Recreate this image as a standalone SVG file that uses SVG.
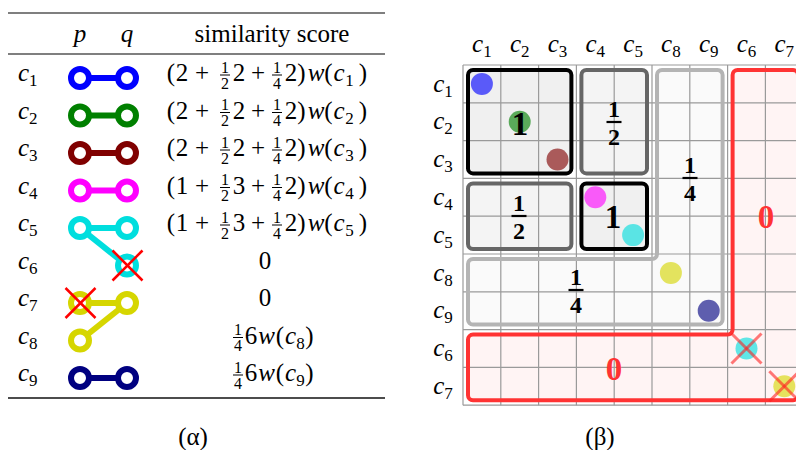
<svg xmlns="http://www.w3.org/2000/svg" width="796" height="450" viewBox="0 0 796 450" font-family="'Liberation Serif','Times New Roman',serif">
<style>
text{font-family:"Liberation Serif","Times New Roman",serif;fill:#000}
.rm{font-size:25px}
.it{font-size:25px;font-style:italic}
.sb{font-size:17px;font-style:normal}
.fr{font-size:16px}
.bf{font-weight:bold}
.rule{stroke:#555;stroke-width:1.3}
.db circle{fill:#fff;stroke-width:6}
.db line{stroke-width:6}
.xr{stroke:#ff0000;stroke-width:2.5}
.xg{stroke:#ff2020;stroke-width:3;stroke-opacity:0.6}
.grid line{stroke:#9a9a9a;stroke-width:1.2}
.bx{stroke-width:4}
.dot{opacity:0.62}
.bar{stroke:#000}
</style>
<defs>
<g id="half"><text class="fr" text-anchor="middle" y="-8.5">1</text><line class="bar" x1="-5" x2="5" y1="-6" y2="-6" stroke-width="1"/><text class="fr" text-anchor="middle" y="7.5">2</text></g>
<g id="quarter"><text class="fr" text-anchor="middle" y="-8.5">1</text><line class="bar" x1="-5" x2="5" y1="-6" y2="-6" stroke-width="1"/><text class="fr" text-anchor="middle" y="7.5">4</text></g>
<g id="tail">
<text class="rm" text-anchor="middle"><tspan x="171">(</tspan><tspan x="202">+</tspan><tspan x="258">+</tspan><tspan x="291">2</tspan><tspan x="301.5">)</tspan><tspan x="328.5">(</tspan><tspan x="363">)</tspan></text>
<text class="it" text-anchor="middle"><tspan x="316">w</tspan><tspan x="339">c</tspan></text>
<use href="#half" x="225"/><use href="#quarter" x="277"/>
</g>
<g id="e2"><use href="#tail"/><text class="rm" text-anchor="middle"><tspan x="182">2</tspan><tspan x="239">2</tspan></text></g>
<g id="e1"><use href="#tail"/><text class="rm" text-anchor="middle"><tspan x="182">1</tspan><tspan x="239">3</tspan></text></g>
<g id="e6">
<use href="#quarter" x="238"/>
<text class="rm" text-anchor="middle"><tspan x="251">6</tspan><tspan x="280">(</tspan><tspan x="309.5">)</tspan></text>
<text class="it" text-anchor="middle"><tspan x="266.5">w</tspan><tspan x="290.5">c</tspan></text>
</g>
<g id="xmark"><line x1="-15" y1="-15" x2="15" y2="15"/><line x1="-15" y1="15" x2="15" y2="-15"/></g>
</defs>
<rect width="796" height="450" fill="#fff"/>

<!-- ===== (a) table ===== -->
<g id="table">
<line class="rule" x1="8" y1="13" x2="385" y2="13"/>
<line class="rule" x1="8" y1="54" x2="385" y2="54"/>
<line x1="8" y1="398" x2="385" y2="398" stroke="#111" stroke-width="1.3"/>
<text class="it" x="80" y="42" text-anchor="middle">p</text>
<text class="it" x="127" y="42" text-anchor="middle">q</text>
<text class="rm" x="272" y="42" text-anchor="middle">similarity score</text>

<g class="it">
<text x="18" y="81">c<tspan class="sb" dy="5">1</tspan></text>
<text x="18" y="118.5">c<tspan class="sb" dy="5">2</tspan></text>
<text x="18" y="156">c<tspan class="sb" dy="5">3</tspan></text>
<text x="18" y="193.5">c<tspan class="sb" dy="5">4</tspan></text>
<text x="18" y="231">c<tspan class="sb" dy="5">5</tspan></text>
<text x="18" y="268.5">c<tspan class="sb" dy="5">6</tspan></text>
<text x="18" y="306">c<tspan class="sb" dy="5">7</tspan></text>
<text x="18" y="343.5">c<tspan class="sb" dy="5">8</tspan></text>
<text x="18" y="381">c<tspan class="sb" dy="5">9</tspan></text>
</g>

<g id="scores">
<use href="#e2" y="81"/><text class="sb" x="349.5" y="86" text-anchor="middle">1</text>
<use href="#e2" y="118.5"/><text class="sb" x="349.5" y="123.5" text-anchor="middle">2</text>
<use href="#e2" y="156"/><text class="sb" x="349.5" y="161" text-anchor="middle">3</text>
<use href="#e1" y="193.5"/><text class="sb" x="349.5" y="198.5" text-anchor="middle">4</text>
<use href="#e1" y="231"/><text class="sb" x="349.5" y="236" text-anchor="middle">5</text>
<text class="rm" x="265" y="268.5" text-anchor="middle">0</text>
<text class="rm" x="265" y="306" text-anchor="middle">0</text>
<use href="#e6" y="343.5"/><text class="sb" x="300.5" y="348.5" text-anchor="middle">8</text>
<use href="#e6" y="381"/><text class="sb" x="300.5" y="386" text-anchor="middle">9</text>
</g>

<g id="c1" class="db" stroke="#0000ff"><line x1="80" y1="78" x2="127" y2="78"/><circle cx="80" cy="78" r="9"/><circle cx="127" cy="78" r="9"/></g>
<g id="c2" class="db" stroke="#008000"><line x1="80" y1="115.5" x2="127" y2="115.5"/><circle cx="80" cy="115.5" r="9"/><circle cx="127" cy="115.5" r="9"/></g>
<g id="c3" class="db" stroke="#800000"><line x1="80" y1="153" x2="127" y2="153"/><circle cx="80" cy="153" r="9"/><circle cx="127" cy="153" r="9"/></g>
<g id="c4" class="db" stroke="#ff00ff"><line x1="80" y1="190.5" x2="127" y2="190.5"/><circle cx="80" cy="190.5" r="9"/><circle cx="127" cy="190.5" r="9"/></g>
<g id="c5" class="db" stroke="#00dede"><line x1="80" y1="228" x2="127" y2="228"/><line x1="80" y1="228" x2="127" y2="265.5"/><circle cx="80" cy="228" r="9"/><circle cx="127" cy="228" r="9"/><circle cx="127" cy="265.5" r="9"/></g>
<g id="c7" class="db" stroke="#d6d600"><line x1="80" y1="303" x2="127" y2="303"/><line x1="127" y1="303" x2="80" y2="340.5"/><circle cx="80" cy="303" r="9"/><circle cx="127" cy="303" r="9"/><circle cx="80" cy="340.5" r="9"/></g>
<g id="c9" class="db" stroke="#000080"><line x1="80" y1="378" x2="127" y2="378"/><circle cx="80" cy="378" r="9"/><circle cx="127" cy="378" r="9"/></g>
<g class="xr"><use href="#xmark" x="127.5" y="265.5"/><use href="#xmark" x="80.5" y="303"/></g>
<text x="193" y="445" font-size="25" text-anchor="middle">(α)</text>
</g>

<!-- ===== (b) matrix ===== -->
<g id="matrix">
<g stroke="none">
<path fill="#fff4f4" d="M737.6,70 H793 A5,5 0 0 1 798,75 V395.2 A5,5 0 0 1 793,400.2 H473 A5,5 0 0 1 468,395.2 V339.6 A5,5 0 0 1 473,334.6 H727.6 A5,5 0 0 0 732.6,329.6 V75 A5,5 0 0 1 737.6,70 Z"/>
<path fill="#fafafa" d="M662,70 H717.6 A5,5 0 0 1 722.6,75 V319.6 A5,5 0 0 1 717.6,324.6 H473 A5,5 0 0 1 468,319.6 V264 A5,5 0 0 1 473,259 H652 A5,5 0 0 0 657,254 V75 A5,5 0 0 1 662,70 Z"/>
<rect x="468" y="70" width="103.4" height="103.4" rx="5" fill="#f0f0f0"/>
<rect x="581.4" y="70" width="65.6" height="103.4" rx="5" fill="#f4f4f4"/>
<rect x="468" y="183.4" width="103.4" height="65.6" rx="5" fill="#f4f4f4"/>
<rect x="581.4" y="183.4" width="65.6" height="65.6" rx="5" fill="#f0f0f0"/>
</g>
<g class="grid">
<line x1="463" y1="65" x2="463" y2="405.2"/>
<line x1="500.8" y1="65" x2="500.8" y2="405.2"/>
<line x1="538.6" y1="65" x2="538.6" y2="405.2"/>
<line x1="576.4" y1="65" x2="576.4" y2="405.2"/>
<line x1="614.2" y1="65" x2="614.2" y2="405.2"/>
<line x1="652" y1="65" x2="652" y2="405.2"/>
<line x1="689.8" y1="65" x2="689.8" y2="405.2"/>
<line x1="727.6" y1="65" x2="727.6" y2="405.2"/>
<line x1="765.4" y1="65" x2="765.4" y2="405.2"/>
<line x1="463" y1="65" x2="803" y2="65"/>
<line x1="463" y1="102.8" x2="803" y2="102.8"/>
<line x1="463" y1="140.6" x2="803" y2="140.6"/>
<line x1="463" y1="178.4" x2="803" y2="178.4"/>
<line x1="463" y1="216.2" x2="803" y2="216.2"/>
<line x1="463" y1="254" x2="803" y2="254"/>
<line x1="463" y1="291.8" x2="803" y2="291.8"/>
<line x1="463" y1="329.6" x2="803" y2="329.6"/>
<line x1="463" y1="367.4" x2="803" y2="367.4"/>
<line x1="463" y1="405.2" x2="803" y2="405.2"/>
</g>
<g fill="none" class="bx">
<path id="box0" stroke="#ff3333" d="M737.6,70 H793 A5,5 0 0 1 798,75 V395.2 A5,5 0 0 1 793,400.2 H473 A5,5 0 0 1 468,395.2 V339.6 A5,5 0 0 1 473,334.6 H727.6 A5,5 0 0 0 732.6,329.6 V75 A5,5 0 0 1 737.6,70 Z"/>
<path id="box14" stroke="#b4b4b4" d="M662,70 H717.6 A5,5 0 0 1 722.6,75 V319.6 A5,5 0 0 1 717.6,324.6 H473 A5,5 0 0 1 468,319.6 V264 A5,5 0 0 1 473,259 H652 A5,5 0 0 0 657,254 V75 A5,5 0 0 1 662,70 Z"/>
<rect id="box1a" x="468" y="70" width="103.4" height="103.4" rx="5" stroke="#000"/>
<rect id="box12a" x="581.4" y="70" width="65.6" height="103.4" rx="5" stroke="#666"/>
<rect id="box12b" x="468" y="183.4" width="103.4" height="65.6" rx="5" stroke="#666"/>
<rect id="box1b" x="581.4" y="183.4" width="65.6" height="65.6" rx="5" stroke="#000"/>
</g>
<g class="it" text-anchor="middle">
<text x="481.9" y="52">c<tspan class="sb" dy="5">1</tspan></text>
<text x="519.7" y="52">c<tspan class="sb" dy="5">2</tspan></text>
<text x="557.5" y="52">c<tspan class="sb" dy="5">3</tspan></text>
<text x="595.3" y="52">c<tspan class="sb" dy="5">4</tspan></text>
<text x="633.1" y="52">c<tspan class="sb" dy="5">5</tspan></text>
<text x="670.9" y="52">c<tspan class="sb" dy="5">8</tspan></text>
<text x="708.7" y="52">c<tspan class="sb" dy="5">9</tspan></text>
<text x="746.5" y="52">c<tspan class="sb" dy="5">6</tspan></text>
<text x="784.3" y="52">c<tspan class="sb" dy="5">7</tspan></text>
<text x="443" y="91.5">c<tspan class="sb" dy="5">1</tspan></text>
<text x="443" y="129.3">c<tspan class="sb" dy="5">2</tspan></text>
<text x="443" y="167.1">c<tspan class="sb" dy="5">3</tspan></text>
<text x="443" y="204.9">c<tspan class="sb" dy="5">4</tspan></text>
<text x="443" y="242.7">c<tspan class="sb" dy="5">5</tspan></text>
<text x="443" y="280.5">c<tspan class="sb" dy="5">8</tspan></text>
<text x="443" y="318.3">c<tspan class="sb" dy="5">9</tspan></text>
<text x="443" y="356.1">c<tspan class="sb" dy="5">6</tspan></text>
<text x="443" y="393.9">c<tspan class="sb" dy="5">7</tspan></text>
</g>
<g class="dot">
<circle cx="481.9" cy="83.9" r="11" fill="#0000ff"/>
<circle cx="519.7" cy="121.7" r="11" fill="#008000"/>
<circle cx="557.5" cy="159.5" r="11" fill="#800000"/>
<circle cx="595.3" cy="197.3" r="11" fill="#ff00ff"/>
<circle cx="633.1" cy="235.1" r="11" fill="#00dede"/>
<circle cx="670.9" cy="272.9" r="11" fill="#d6d600"/>
<circle cx="708.7" cy="310.7" r="11" fill="#000080"/>
<circle cx="746.5" cy="348.5" r="11" fill="#00dede"/>
<circle cx="784.3" cy="386.3" r="11" fill="#d6d600"/>
</g>
<g class="xg"><use href="#xmark" x="746.5" y="348.5"/><use href="#xmark" x="784.3" y="386.3"/></g>
<g class="bf" text-anchor="middle">
<text x="520" y="135" font-size="33">1</text>
<text x="613" y="228" font-size="33">1</text>
<text x="766" y="228" font-size="33" style="fill:#ff3333">0</text>
<text x="614" y="380" font-size="33" style="fill:#ff3333">0</text>
<text x="614" y="117" font-size="24">1</text><text x="614" y="145" font-size="24">2</text>
<text x="519" y="211" font-size="24">1</text><text x="519" y="239" font-size="24">2</text>
<text x="690" y="173" font-size="24">1</text><text x="690" y="201" font-size="24">4</text>
<text x="576" y="285" font-size="24">1</text><text x="576" y="313" font-size="24">4</text>
</g>
<g stroke="#000" stroke-width="2.2">
<line x1="606.5" y1="122" x2="621.5" y2="122"/>
<line x1="511.5" y1="216" x2="526.5" y2="216"/>
<line x1="682.5" y1="178" x2="697.5" y2="178"/>
<line x1="568.5" y1="290" x2="583.5" y2="290"/>
</g>
<text x="600" y="445" font-size="25" text-anchor="middle">(β)</text>
</g>
</svg>
